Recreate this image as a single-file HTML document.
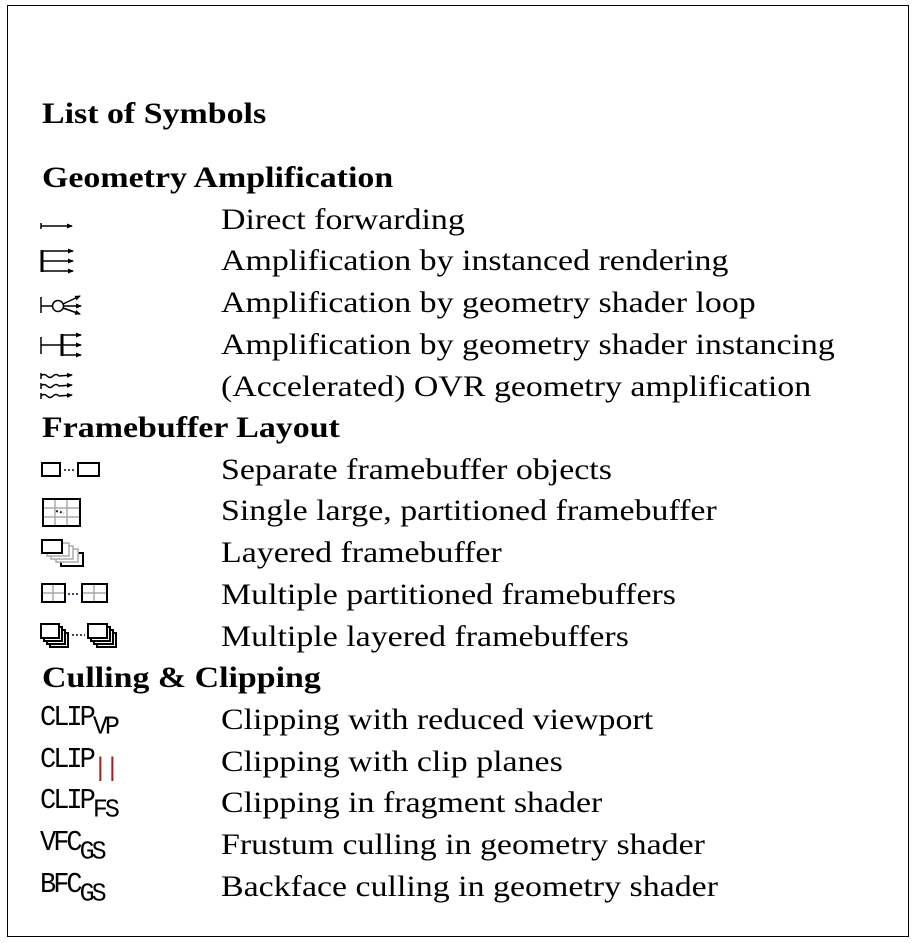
<!DOCTYPE html>
<html><head><meta charset="utf-8"><style>
body{margin:0;width:917px;height:943px;background:#fff;position:relative;font-family:"Liberation Serif",serif;color:#000;overflow:hidden}
.box{position:absolute;left:7px;top:5px;width:902px;height:932px;border:1.5px solid #000;box-sizing:border-box}
.t{position:absolute;left:221px;font-size:30px;line-height:1;white-space:nowrap;transform:scaleX(1.13);transform-origin:0 0}
.h{position:absolute;left:42px;font-size:30px;font-weight:bold;line-height:1;white-space:nowrap;transform:scaleX(1.13);transform-origin:0 0}
.m{position:absolute;left:40px;font-family:"Liberation Mono",monospace;font-size:27px;line-height:1;white-space:nowrap;letter-spacing:-3px;transform:scaleY(1.05)}
.m sub{font-size:25px;vertical-align:-8px}
svg{position:absolute;left:0;top:0}
</style></head><body>
<div class="box"></div>
<div class="h" style="top:99px">List of Symbols</div>
<div class="h" style="top:163px">Geometry Amplification</div>
<div class="t" style="top:205px">Direct forwarding</div>
<div class="t" style="top:246px">Amplification by instanced rendering</div>
<div class="t" style="top:288px">Amplification by geometry shader loop</div>
<div class="t" style="top:330px">Amplification by geometry shader instancing</div>
<div class="t" style="top:372px">(Accelerated) OVR geometry amplification</div>
<div class="h" style="top:413px">Framebuffer Layout</div>
<div class="t" style="top:455px">Separate framebuffer objects</div>
<div class="t" style="top:496px">Single large, partitioned framebuffer</div>
<div class="t" style="top:538px">Layered framebuffer</div>
<div class="t" style="top:580px">Multiple partitioned framebuffers</div>
<div class="t" style="top:622px">Multiple layered framebuffers</div>
<div class="h" style="top:663px">Culling &amp; Clipping</div>
<div class="t" style="top:705px">Clipping with reduced viewport</div>
<div class="t" style="top:747px">Clipping with clip planes</div>
<div class="t" style="top:788px">Clipping in fragment shader</div>
<div class="t" style="top:830px">Frustum culling in geometry shader</div>
<div class="t" style="top:872px">Backface culling in geometry shader</div>
<div class="m" style="top:706px">CLIP<sub>VP</sub></div>
<div class="m" style="top:748px">CLIP<sub style="color:#a02020">||</sub></div>
<div class="m" style="top:789px">CLIP<sub>FS</sub></div>
<div class="m" style="top:831px">VFC<sub>GS</sub></div>
<div class="m" style="top:873px">BFC<sub>GS</sub></div>
<svg width="917" height="943" viewBox="0 0 917 943">
<defs><marker id="a" markerWidth="6" markerHeight="6" refX="5" refY="3" orient="auto" markerUnits="userSpaceOnUse"><path d="M0,0.5L6,3L0,5.5Z" fill="#000"/></marker></defs>
<g stroke="#000" fill="none" stroke-width="1.5">
<line x1="41" y1="223" x2="41" y2="229"/><line x1="41" y1="226" x2="72" y2="226" marker-end="url(#a)"/>
<line x1="42" y1="250" x2="42" y2="272" stroke-width="3"/>
<line x1="42" y1="251" x2="73" y2="251" marker-end="url(#a)"/><line x1="42" y1="261" x2="73" y2="261" marker-end="url(#a)"/><line x1="42" y1="271" x2="73" y2="271" marker-end="url(#a)"/>
<line x1="41" y1="297" x2="41" y2="313"/><line x1="41" y1="306" x2="52" y2="306"/><circle cx="58" cy="306" r="5.5"/>
<line x1="63" y1="304" x2="80" y2="296" marker-end="url(#a)"/><line x1="64" y1="306" x2="81" y2="306" marker-end="url(#a)"/><line x1="63" y1="308" x2="80" y2="314" marker-end="url(#a)"/>
<line x1="41" y1="337" x2="41" y2="354"/><line x1="41" y1="345" x2="62" y2="345"/><line x1="62" y1="334" x2="62" y2="356" stroke-width="3"/>
<line x1="62" y1="335" x2="81" y2="335" marker-end="url(#a)"/><line x1="62" y1="345" x2="81" y2="345" marker-end="url(#a)"/><line x1="62" y1="355" x2="81" y2="355" marker-end="url(#a)"/>
<path d="M41,376 q3,-3 6,0 t6,0 t6,0 L72,375" marker-end="url(#a)"/><path d="M41,386 q3,-3 6,0 t6,0 t6,0 L72,385" marker-end="url(#a)"/><path d="M41,396 q3,-3 6,0 t6,0 t6,0 L72,395" marker-end="url(#a)"/>
<line x1="41" y1="373" x2="41" y2="379"/><line x1="41" y1="383" x2="41" y2="389"/><line x1="41" y1="393" x2="41" y2="399"/>
</g>
<g stroke="#000" fill="#fff" stroke-width="2">
<rect x="42" y="463" width="18" height="13"/><rect x="78" y="463" width="21" height="13"/>
<line x1="64" y1="470" x2="74" y2="470" stroke-dasharray="2,2" stroke="#446"/>
<rect x="43" y="499" width="37" height="27"/>
<g stroke="#aaa" stroke-width="1.5"><line x1="55" y1="500" x2="55" y2="525"/><line x1="67" y1="500" x2="67" y2="525"/><line x1="44" y1="508" x2="79" y2="508"/><line x1="44" y1="517" x2="79" y2="517"/></g>
<rect x="43" y="499" width="37" height="27" fill="none"/>
<path d="M56,511 l8,2" stroke-dasharray="2,2" stroke="#223"/>
<rect x="61" y="553" width="22" height="13"/>
<g stroke="#aaa" stroke-width="1.5"><rect x="56" y="549" width="22" height="13"/><rect x="51" y="546" width="22" height="13"/><rect x="47" y="543" width="22" height="13"/></g>
<rect x="42" y="540" width="20" height="13"/>
<rect x="42" y="584" width="23" height="18"/><rect x="82" y="584" width="25" height="18"/>
<g stroke="#aaa" stroke-width="1.5"><line x1="53" y1="585" x2="53" y2="601"/><line x1="43" y1="593" x2="64" y2="593"/><line x1="94" y1="585" x2="94" y2="601"/><line x1="83" y1="593" x2="106" y2="593"/></g>
<rect x="42" y="584" width="23" height="18" fill="none"/><rect x="82" y="584" width="25" height="18" fill="none"/>
<line x1="68" y1="594" x2="79" y2="594" stroke-dasharray="2,2" stroke="#446"/>
<rect x="50" y="633" width="18" height="14"/><rect x="47" y="630" width="18" height="14"/><rect x="44" y="627" width="18" height="14"/><rect x="41" y="624" width="18" height="14"/>
<rect x="97" y="633" width="19" height="14"/><rect x="94" y="630" width="19" height="14"/><rect x="91" y="627" width="19" height="14"/><rect x="88" y="624" width="19" height="14"/>
<line x1="72" y1="635" x2="85" y2="635" stroke-dasharray="2,2" stroke="#446"/>
</g>
</svg>
</body></html>
